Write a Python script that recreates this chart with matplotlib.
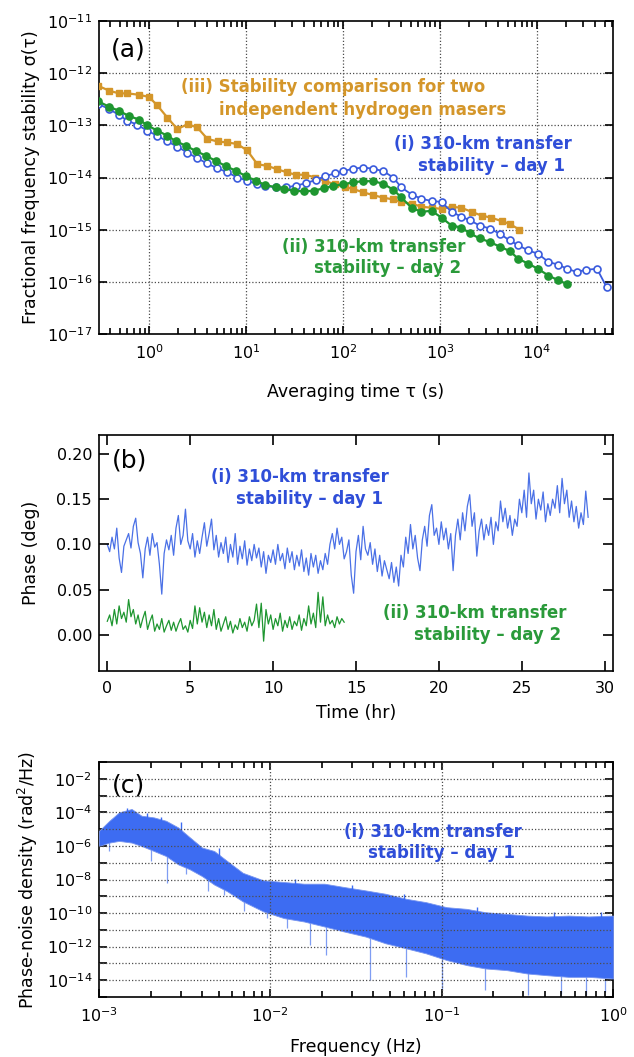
import numpy as np
import matplotlib
matplotlib.use("Agg")
import matplotlib.pyplot as plt
from matplotlib.ticker import NullFormatter, FixedLocator, FixedFormatter

plt.rcParams["font.family"] = ["DejaVu Sans"]
plt.rcParams["mathtext.fontset"] = "dejavusans"
plt.rcParams["xtick.minor.visible"] = True
plt.rcParams["xtick.direction"] = "in"
plt.rcParams["ytick.direction"] = "in"
plt.rcParams["xtick.top"] = True
plt.rcParams["ytick.right"] = True

# ---- panel (a): Allan deviation ----
tau_maser = [0.30, 0.39, 0.49, 0.60, 0.79, 1.0, 1.22, 1.55, 1.96, 2.5, 3.15, 4.0, 5.1, 6.4, 8.1,
             10.3, 13.1, 16.6, 21, 26.7, 32.5, 41, 52, 66, 83, 105, 128, 162, 204, 261, 331,
             398, 513, 646, 820, 1040, 1318, 1660, 2138, 2692, 3388, 4365, 5248, 6607]
sig_maser = [5.7e-13, 4.6e-13, 4.1e-13, 4.1e-13, 3.85e-13, 3.5e-13, 2.4e-13, 1.4e-13, 8.5e-14,
             1.05e-13, 9.1e-14, 5.5e-14, 4.9e-14, 4.7e-14, 4.4e-14, 3.3e-14, 1.8e-14, 1.67e-14,
             1.44e-14, 1.25e-14, 1.13e-14, 1.13e-14, 1.0e-14, 8.5e-15, 7.4e-15, 6.6e-15, 6.0e-15,
             5.2e-15, 4.6e-15, 4.1e-15, 3.8e-15, 3.4e-15, 3.16e-15, 2.75e-15, 2.63e-15, 2.5e-15,
             2.75e-15, 2.63e-15, 2.19e-15, 1.86e-15, 1.7e-15, 1.45e-15, 1.29e-15, 1.0e-15]

tau_day2 = [0.30, 0.39, 0.49, 0.62, 0.79, 0.96, 1.22, 1.55, 1.88, 2.39, 3.02, 3.84, 4.86, 6.17,
            7.82, 9.93, 12.6, 15.8, 20.2, 24.5, 31.3, 39.8, 50.1, 63.1, 79.4, 100, 128, 162, 204,
            261, 331, 398, 513, 646, 820, 1040, 1318, 1660, 2042, 2570, 3281, 4169, 5248, 6457,
            8128, 10230, 13180, 16600, 20420]
sig_day2 = [2.88e-13, 2.26e-13, 1.9e-13, 1.51e-13, 1.29e-13, 1.0e-13, 7.9e-14, 6.3e-14, 5.0e-14,
            4.07e-14, 3.24e-14, 2.63e-14, 2.09e-14, 1.66e-14, 1.35e-14, 1.07e-14, 8.7e-15, 7.2e-15,
            6.5e-15, 6.0e-15, 5.6e-15, 5.4e-15, 5.6e-15, 6.2e-15, 6.9e-15, 7.4e-15, 8.1e-15,
            8.5e-15, 8.5e-15, 7.6e-15, 5.8e-15, 4.2e-15, 2.6e-15, 2.2e-15, 2.3e-15, 1.7e-15,
            1.2e-15, 1.1e-15, 8.5e-16, 6.8e-16, 5.8e-16, 4.7e-16, 3.9e-16, 2.75e-16, 2.24e-16,
            1.78e-16, 1.32e-16, 1.07e-16, 9.1e-17]

tau_day1 = [0.30, 0.39, 0.49, 0.60, 0.76, 0.96, 1.22, 1.55, 1.96, 2.48, 3.15, 3.98, 5.06, 6.43,
            8.13, 10.3, 13.1, 15.8, 20.2, 25.7, 32.5, 41.2, 52.2, 66.1, 83.2, 100, 128, 162, 204,
            261, 331, 398, 513, 646, 820, 1040, 1318, 1660, 2042, 2570, 3281, 4169, 5248, 6457,
            8128, 10230, 13180, 16600, 20420, 25700, 32360, 41690, 52480]
sig_day1 = [2.57e-13, 2.04e-13, 1.58e-13, 1.23e-13, 1.02e-13, 7.9e-14, 6.3e-14, 4.9e-14, 3.9e-14,
            3.0e-14, 2.34e-14, 1.86e-14, 1.51e-14, 1.26e-14, 1.0e-14, 8.7e-15, 7.4e-15, 6.9e-15,
            6.5e-15, 6.5e-15, 6.9e-15, 7.8e-15, 8.9e-15, 1.07e-14, 1.2e-14, 1.32e-14, 1.48e-14,
            1.55e-14, 1.48e-14, 1.32e-14, 1.0e-14, 6.5e-15, 4.7e-15, 3.9e-15, 3.55e-15, 3.4e-15,
            2.2e-15, 1.78e-15, 1.51e-15, 1.2e-15, 1.05e-15, 8.3e-16, 6.2e-16, 5.0e-16, 4.0e-16,
            3.47e-16, 2.4e-16, 2.14e-16, 1.78e-16, 1.55e-16, 1.7e-16, 1.78e-16, 7.9e-17]

# ---- panel (b): phase vs time, 7 samples per hour ----
samples_per_hr = 7
phase_day1 = [
    0.100, 0.092, 0.108, 0.095, 0.118, 0.085, 0.069,
    0.098, 0.105, 0.112, 0.096, 0.120, 0.129, 0.102,
    0.090, 0.063, 0.095, 0.108, 0.088, 0.112, 0.097,
    0.102, 0.078, 0.045, 0.090, 0.105, 0.094, 0.110,
    0.088, 0.118, 0.132, 0.100, 0.110, 0.139, 0.104,
    0.095, 0.112, 0.086, 0.104, 0.090, 0.108, 0.124,
    0.098, 0.112, 0.128, 0.094, 0.110, 0.086, 0.102,
    0.090, 0.108, 0.080, 0.100, 0.086, 0.112, 0.078,
    0.098, 0.084, 0.104, 0.077, 0.095, 0.082, 0.100,
    0.085, 0.096, 0.075, 0.092, 0.068, 0.088, 0.080,
    0.094, 0.078, 0.100, 0.082, 0.090, 0.073, 0.096,
    0.080, 0.092, 0.072, 0.088, 0.076, 0.094, 0.070,
    0.085, 0.066, 0.090, 0.075, 0.088, 0.068, 0.082,
    0.072, 0.090, 0.078, 0.100, 0.112, 0.095, 0.118,
    0.100, 0.108, 0.084, 0.092, 0.105, 0.066, 0.046,
    0.092, 0.110, 0.083, 0.120, 0.095, 0.088, 0.102,
    0.078, 0.095, 0.070, 0.088, 0.065, 0.082, 0.072,
    0.062, 0.080, 0.058, 0.075, 0.054, 0.088, 0.075,
    0.108, 0.090, 0.122, 0.095, 0.110, 0.085, 0.071,
    0.105, 0.120, 0.098, 0.132, 0.144, 0.110, 0.118,
    0.100, 0.125, 0.105, 0.118, 0.095, 0.112, 0.071,
    0.110, 0.128, 0.105, 0.135, 0.115, 0.142, 0.155,
    0.120, 0.135, 0.087, 0.115, 0.128, 0.105, 0.122,
    0.110, 0.130, 0.100, 0.125, 0.115, 0.148, 0.125,
    0.140, 0.118, 0.132, 0.110, 0.128, 0.120, 0.150,
    0.135, 0.160, 0.130, 0.179, 0.145, 0.160, 0.128,
    0.150, 0.138, 0.158, 0.125, 0.145, 0.132, 0.150,
    0.140, 0.165, 0.135, 0.173, 0.145, 0.160, 0.130,
    0.148, 0.125, 0.142, 0.118, 0.135, 0.122, 0.159,
    0.130,
]
phase_day2 = [
    0.015, 0.022, 0.010, 0.028, 0.012, 0.032, 0.018,
    0.025, 0.014, 0.039, 0.020, 0.028, 0.012, 0.022,
    0.008, 0.018, 0.026, 0.006, 0.015, 0.022, 0.004,
    0.012, 0.006, 0.018, 0.003, 0.010, 0.016, 0.005,
    0.014, 0.004, 0.012, 0.018, 0.006, 0.010, 0.003,
    0.016, 0.007, 0.032, 0.012, 0.030, 0.014, 0.025,
    0.008, 0.022, 0.010, 0.028, 0.006, 0.018, 0.004,
    0.012, 0.020, 0.006, 0.015, 0.002, 0.011, 0.006,
    0.018, 0.008, 0.014, 0.004, 0.020, 0.010, 0.016,
    0.034, 0.008, 0.035, -0.007, 0.028, 0.012, 0.022,
    0.006, 0.018, 0.010, 0.024, 0.004, 0.016, 0.008,
    0.020, 0.006, 0.015, 0.010, 0.022, 0.005, 0.018,
    0.010, 0.032, 0.012, 0.024, 0.008, 0.047, 0.014,
    0.042, 0.010, 0.022, 0.012, 0.016, 0.008, 0.020,
    0.012, 0.018, 0.014,
]

# ---- panel (c): phase-noise PSD band (log10 values) ----
psd_freq = [1.0e-3, 1.15e-3, 1.31e-3, 1.55e-3, 1.77e-3, 2.09e-3, 2.46e-3, 2.9e-3, 3.4e-3, 4.0e-3,
            4.7e-3, 5.6e-3, 6.9e-3, 9.1e-3, 1.2e-2, 1.57e-2, 2.07e-2, 2.7e-2, 3.6e-2, 4.7e-2,
            6.2e-2, 8.1e-2, 0.107, 0.14, 0.18, 0.24, 0.316, 0.41, 0.55, 0.72, 1.0]
psd_upper = [-5.1, -4.5, -4.0, -3.8, -4.2, -4.3, -4.5, -4.9, -5.5, -6.1, -6.3, -6.9, -7.6, -8.05,
             -8.15, -8.25, -8.25, -8.45, -8.65, -8.85, -9.15, -9.35, -9.65, -9.75, -9.95, -10.05,
             -10.15, -10.2, -10.15, -10.2, -10.15]
psd_lower = [-6.0, -5.8, -5.7, -5.8, -6.0, -6.3, -6.6, -7.1, -7.4, -7.8, -8.3, -8.7, -9.3, -9.9,
             -10.3, -10.5, -10.8, -11.1, -11.4, -11.8, -12.1, -12.4, -12.8, -13.1, -13.3, -13.4,
             -13.6, -13.7, -13.8, -13.8, -13.9]
spike_freq = [1.15e-3, 2.0e-3, 2.5e-3, 3.2e-3, 4.3e-3, 5.4e-3, 7.0e-3, 9.5e-3, 1.25e-2, 1.7e-2,
              2.1e-2, 3.8e-2, 6.2e-2, 0.1, 0.18, 0.32, 0.5, 0.7, 0.9]
spike_low = [-6.3, -6.9, -8.2, -7.7, -8.7, -8.9, -9.9, -10.3, -10.9, -11.9, -12.5, -14.0, -13.8,
             -14.5, -14.6, -14.9, -14.8, -14.9, -14.7]
peak_freq = [1.45e-3, 1.9e-3, 2.3e-3, 3.0e-3, 5.0e-3, 1.4e-2, 3.0e-2, 6.0e-2, 0.16, 0.45, 0.85]
peak_high = [-3.75, -4.05, -4.25, -4.6, -6.1, -7.95, -8.3, -8.85, -9.65, -9.95, -9.95]

GOLD = "#D4962A"
BLUE = "#3A5BDD"
BLUE_TXT = "#2F4ED8"
GREEN = "#1E9630"
GREEN_TXT = "#2A9A3A"
BLUE_B = "#4A70E6"
BLUE_C = "#3D6CF2"

W, H = 634, 1057
fig = plt.figure(figsize=(W / 100, H / 100), dpi=100)


def axes_px(left, top, right, bottom):
    return fig.add_axes([left / W, 1 - bottom / H, (right - left) / W, (bottom - top) / H])


def px_text(x, y, s, **kw):
    fig.text(x / W, 1 - y / H, s, ha="center", va="center", **kw)


def log_minors(first_dec, last_dec):
    # 2..9 x 10^n tick positions for a log axis
    return [m * 10.0 ** d for d in range(first_dec, last_dec + 1) for m in range(2, 10)]


GRID = dict(color="0.3", linestyle=(0, (1, 1.6)), linewidth=0.9)
TICKFS = 11.5
LABFS = 12.5
ANNFS = 12
LETTERFS = 18

# ---------- (a) ----------
ax = axes_px(99, 21, 613, 334)
ax.set_xscale("log")
ax.set_yscale("log")
ax.plot(tau_maser, sig_maser, "-s", color=GOLD, lw=1.6, ms=4.5, zorder=3)
ax.plot(tau_day1, sig_day1, "-o", color=BLUE, lw=1.3, ms=5, mfc="white", mec=BLUE, mew=1.2, zorder=4)
ax.plot(tau_day2, sig_day2, "-o", color=GREEN, lw=1.6, ms=5.2, zorder=5)
ax.set_xlim(0.305, 6.1e4)
ax.set_ylim(1e-17, 1e-11)
ax.xaxis.set_major_locator(FixedLocator([1e0, 1e1, 1e2, 1e3, 1e4]))
ax.xaxis.set_minor_locator(FixedLocator(log_minors(-1, 4)))
ax.xaxis.set_minor_formatter(NullFormatter())
ax.yaxis.set_major_locator(FixedLocator([10.0 ** e for e in range(-17, -10)]))
ax.yaxis.set_minor_locator(FixedLocator([]))
for e in range(-16, -11):
    ax.axhline(10.0 ** e, **GRID, zorder=1)
for e in range(0, 5):
    ax.axvline(10.0 ** e, **GRID, zorder=1)
ax.set_xlabel("Averaging time τ (s)", fontsize=LABFS)
ax.set_ylabel("Fractional frequency stability σ(τ)", fontsize=LABFS)
ax.xaxis.set_label_coords(0.5, -0.155)
ax.yaxis.set_label_coords(-0.115, 0.5)

# ---------- (b) ----------
bx = axes_px(99, 435, 613, 671)
t1 = np.arange(len(phase_day1)) / samples_per_hr
t2 = np.arange(len(phase_day2)) / samples_per_hr
bx.plot(t1, phase_day1, color=BLUE_B, lw=0.9)
bx.plot(t2, phase_day2, color=GREEN, lw=0.9)
bx.set_xlim(-0.5, 30.5)
bx.set_ylim(-0.04, 0.221)
bx.set_xticks(range(0, 31, 5))
bx.xaxis.set_minor_locator(FixedLocator([]))
bx.set_yticks([0.0, 0.05, 0.10, 0.15, 0.20])
bx.set_yticklabels(["0.00", "0.05", "0.10", "0.15", "0.20"])
bx.set_xlabel("Time (hr)", fontsize=LABFS)
bx.set_ylabel("Phase (deg)", fontsize=LABFS)
bx.xaxis.set_label_coords(0.5, -0.14)
bx.yaxis.set_label_coords(-0.115, 0.5)

# ---------- (c) ----------
cx = axes_px(99, 762, 613, 997)
cx.set_xscale("log")
cx.set_yscale("log")
up = 10.0 ** np.array(psd_upper)
lo = 10.0 ** np.array(psd_lower)
cx.fill_between(psd_freq, lo, up, color=BLUE_C, lw=0.6, edgecolor="#7795F0", zorder=3)
cx.vlines(spike_freq, 10.0 ** np.array(spike_low),
          np.interp(np.log10(spike_freq), np.log10(psd_freq), lo) * 3,
          color="#7F9DF3", lw=0.9, zorder=2)
cx.vlines(peak_freq, np.interp(np.log10(peak_freq), np.log10(psd_freq), up) / 3,
          10.0 ** np.array(peak_high), color=BLUE_C, lw=1.0, zorder=3)
cx.set_xlim(1e-3, 1)
cx.set_ylim(1e-15, 1e-1)
cx.xaxis.set_major_locator(FixedLocator([1e-3, 1e-2, 1e-1, 1e0]))
cx.xaxis.set_minor_locator(FixedLocator(log_minors(-3, -1)))
cx.xaxis.set_minor_formatter(NullFormatter())
ydec = list(range(-15, 0))
cx.yaxis.set_major_locator(FixedLocator([10.0 ** e for e in ydec]))
cx.yaxis.set_major_formatter(FixedFormatter(
    [r"$\mathregular{10^{%d}}$" % e if (e % 2 == 0 and -14 <= e <= -2) else "" for e in ydec]))
cx.yaxis.set_minor_locator(FixedLocator([]))
for e in range(-14, -1):
    cx.axhline(10.0 ** e, **GRID, zorder=4)
for e in (-2, -1):
    cx.axvline(10.0 ** e, **GRID, zorder=4)
cx.set_xlabel("Frequency (Hz)", fontsize=LABFS)
cx.set_ylabel("Phase-noise density (rad$^2$/Hz)", fontsize=LABFS)
cx.xaxis.set_label_coords(0.5, -0.175)
cx.yaxis.set_label_coords(-0.115, 0.5)

for a in (ax, bx, cx):
    a.set_axisbelow(False)
    for sp in a.spines.values():
        sp.set_linewidth(1.2)
    a.tick_params(which="both", direction="in", top=True, right=True, bottom=True, left=True,
                  labelsize=TICKFS)
    a.tick_params(which="major", length=6, width=1.2)
    a.tick_params(which="minor", length=4.5, width=1.2)
    a.tick_params(axis="x", which="major", pad=7)
    a.tick_params(axis="y", which="major", pad=5)
bx.tick_params(which="major", length=7)

# ---------- annotations ----------
px_text(128, 50, "(a)", fontsize=LETTERFS)
px_text(333, 87, "(iii) Stability comparison for two", color=GOLD, fontsize=ANNFS, fontweight="bold")
px_text(363, 110, "independent hydrogen masers", color=GOLD, fontsize=ANNFS, fontweight="bold")
px_text(483, 144, "(i) 310-km transfer", color=BLUE_TXT, fontsize=ANNFS, fontweight="bold")
px_text(492, 166, "stability – day 1", color=BLUE_TXT, fontsize=ANNFS, fontweight="bold")
px_text(374, 247, "(ii) 310-km transfer", color=GREEN_TXT, fontsize=ANNFS, fontweight="bold")
px_text(388, 268, "stability – day 2", color=GREEN_TXT, fontsize=ANNFS, fontweight="bold")

px_text(130, 460, "(b)", fontsize=LETTERFS)
px_text(300, 477, "(i) 310-km transfer", color=BLUE_TXT, fontsize=ANNFS, fontweight="bold")
px_text(309, 499, "stability – day 1", color=BLUE_TXT, fontsize=ANNFS, fontweight="bold")
px_text(475, 613, "(ii) 310-km transfer", color=GREEN_TXT, fontsize=ANNFS, fontweight="bold")
px_text(488, 635, "stability – day 2", color=GREEN_TXT, fontsize=ANNFS, fontweight="bold")

px_text(128, 785, "(c)", fontsize=LETTERFS)
px_text(433, 832, "(i) 310-km transfer", color=BLUE_TXT, fontsize=ANNFS, fontweight="bold")
px_text(441, 853, "stability – day 1", color=BLUE_TXT, fontsize=ANNFS, fontweight="bold")

fig.savefig("out.png", dpi=100)
